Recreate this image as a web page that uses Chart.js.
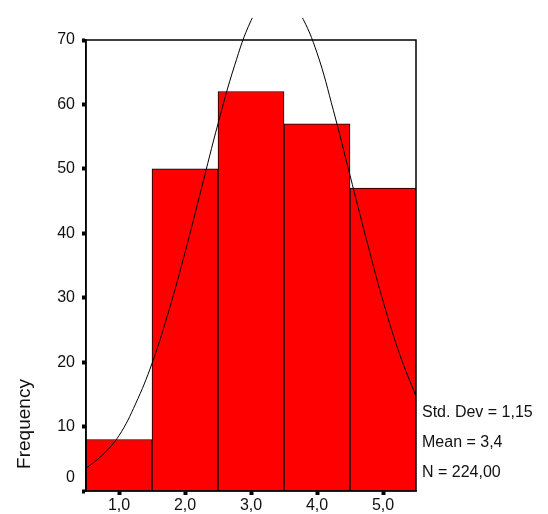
<!DOCTYPE html>
<html>
<head>
<meta charset="utf-8">
<script src="https://cdn.jsdelivr.net/npm/chart.js@4/dist/chart.umd.min.js"></script>
<style>
  body { margin: 0; background: #fff; }
</style>
</head>
<body>
<canvas id="histChart" width="548" height="514"></canvas>
<script>
// histogram bins (midpoints) and counts
const binLabels = ["1,0", "2,0", "3,0", "4,0", "5,0"];
const frequencies = [8, 50, 62, 57, 47];

// fitted normal curve
const curveX = [0.5, 0.75, 1.0, 1.25, 1.5, 1.75, 2.0, 2.25, 2.5, 2.75, 3.0, 3.25, 3.5, 3.75, 4.0, 4.25, 4.5, 4.75, 5.0, 5.25, 5.5];
const curveY = [3.5, 5.6, 8.6, 13.5, 19.8, 27.8, 37, 47, 57, 66, 73, 77, 77.4, 74, 68, 59, 49, 39, 29.5, 21.3, 14.7];

const yTicks = [0, 10, 20, 30, 40, 50, 60, 70];
const statLines = ["Std. Dev = 1,15", "Mean = 3,4", "N = 224,00"];

const FONT = "'Liberation Sans', Arial, sans-serif";

// frame, axis title, stats box
const extras = {
  id: "extras",
  afterDraw(chart) {
    const ctx = chart.ctx;
    const a = chart.chartArea;
    ctx.save();
    ctx.strokeStyle = "#000";
    ctx.lineWidth = 1.5;
    ctx.strokeRect(a.left, a.top, a.right - a.left, a.bottom - a.top);

    ctx.fillStyle = "#111";
    ctx.font = "16px " + FONT;
    ctx.textAlign = "right";
    ctx.textBaseline = "middle";
    ctx.fillText("0", 75, 478);

    ctx.textAlign = "left";
    statLines.forEach((t, i) => ctx.fillText(t, 422, 413 + i * 30));

    ctx.translate(25, 424);
    ctx.rotate(-Math.PI / 2);
    ctx.textAlign = "center";
    ctx.font = "19px " + FONT;
    ctx.fillText("Frequency", 0, 0);
    ctx.restore();
  }
};

new Chart("histChart", {
  type: "bar",
  data: {
    labels: binLabels,
    datasets: [
      {
        type: "line",
        data: curveX.map((x, i) => ({ x: x, y: curveY[i] })),
        xAxisID: "x2",
        borderColor: "#000",
        borderWidth: 1,
        pointRadius: 0,
        tension: 0.4,
        // curve runs a little above the frame, then is cut off
        clip: { top: 22, left: 0, right: 0, bottom: 0 },
        order: 0
      },
      {
        data: frequencies,
        backgroundColor: "#ff0000",
        borderColor: "#000",
        borderWidth: 1,
        barPercentage: 1,
        categoryPercentage: 1,
        grouped: false,
        order: 1
      }
    ]
  },
  options: {
    responsive: false,
    animation: false,
    layout: { padding: { top: 40, right: 132, left: 0, bottom: 0 } },
    plugins: { legend: { display: false }, tooltip: { enabled: false } },
    scales: {
      x: {
        offset: true,
        grid: { offset: false, drawOnChartArea: false, tickLength: 4, tickWidth: 4, tickColor: "#000" },
        border: { color: "#000", width: 1.5 },
        ticks: { color: "#111", font: { family: FONT, size: 16 }, padding: 1, maxRotation: 0 },
        afterFit: s => { s.height = 23; }
      },
      x2: { type: "linear", display: false, offset: false, min: 0.5, max: 5.5 },
      y: {
        min: 0,
        max: 70,
        afterBuildTicks: s => { s.ticks = yTicks.map(v => ({ value: v })); },
        grid: { drawOnChartArea: false, tickLength: 4, tickWidth: 4, tickColor: "#000" },
        border: { color: "#000", width: 1.5 },
        ticks: {
          color: "#111",
          font: { family: FONT, size: 16 },
          padding: 7,
          callback: v => (v === 0 ? "" : v)
        },
        afterFit: s => { s.width = 86; }
      }
    }
  },
  plugins: [extras]
});
</script>
</body>
</html>
